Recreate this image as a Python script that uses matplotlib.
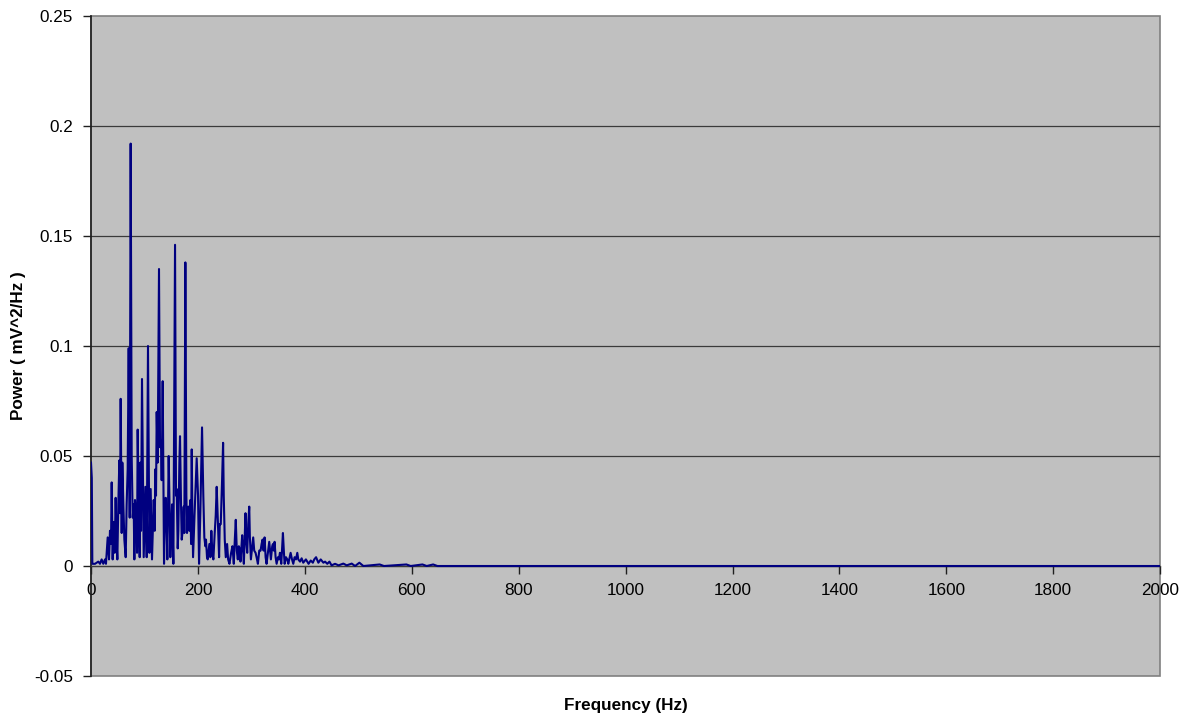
import matplotlib
matplotlib.use("Agg")
import matplotlib.pyplot as plt
from matplotlib.patches import Rectangle
from matplotlib.ticker import FuncFormatter

# power spectrum read point by point (Hz, mV^2/Hz)
freq_hz = [
    0, 1.5, 2.5, 7.5, 13.7, 16.8, 19.9, 23, 26.2, 28, 31.2, 33.7, 35.5, 37.4, 38.7,
    40.5, 42.4, 44.3, 46.1, 48, 49.3, 51.1, 53, 54.3, 55.5, 57.4, 58.6, 60.5,
    62.4, 64.9, 66.7, 68.6, 70.5, 72.4, 74.2, 76.1, 78, 79.8, 81.1, 82.3, 84.8,
    86.1, 87.3, 89.8, 91.1, 92.3, 93.6, 95.4, 97.3, 98.6, 101.7, 104.2, 106.6,
    109.2, 111.6, 114.1, 117.3, 119.1, 120.4, 121.6, 122.9, 124.7, 127.2, 129.1,
    131, 132.2, 134.1, 135.3, 136.6, 138.4, 139.7, 141.6, 142.8, 145.3, 147.2,
    148.4, 150.3, 151.6, 154.1, 157.2, 159, 160.3, 162.2, 163.4, 165.3, 166.5,
    168.4, 169.7, 171.5, 173.4, 174.6, 176.5, 178.4, 179.6, 180.9, 182.1, 184,
    185.9, 187.2, 188.4, 189.6, 190.9, 193.8, 197.7, 200.2, 202.1, 204.5,
    207.7, 210.1, 212, 213.9, 215.1, 217, 218.3, 221.4, 223.3, 225.1, 227,
    228.9, 231.4, 233.3, 235.1, 239.6, 240.8, 242.7, 245.2, 247.1, 248.3,
    250.2, 252.1, 254.6, 256.5, 259, 262.1, 264.6, 267.1, 269, 270.8, 272.7,
    274.6, 276.5, 277.7, 279.6, 282.8, 284.6, 285.9, 287.8, 289, 290.9, 292.2,
    294.1, 296, 297.2, 299.1, 301.6, 303.4, 305.3, 307.8, 309.7, 312.2, 314.7,
    317.2, 319.1, 320.9, 322.8, 324.7, 326.6, 328.4, 330.9, 333.4, 335.3,
    336.5, 339, 340.3, 342.1, 343.4, 345.3, 347.2, 349.7, 351.5, 353.4, 355.9,
    359, 360.9, 362.2, 364.7, 367.2, 369.1, 371.6, 373.4, 376, 378.4, 380.9,
    383.4, 385.9, 387.7, 391, 394, 397, 402, 407, 411, 415, 417.6, 421, 425.3,
    429.7, 434.7, 437.8, 442, 446, 450, 456.5, 463, 472, 478.3, 487.7, 494,
    502, 509.5, 540, 548, 590, 598, 620, 628, 640, 648, 2000,
]
power = [
    0.047, 0.040, 0.001, 0.001, 0.002, 0.001, 0.003, 0.001, 0.003, 0.001, 0.013,
    0.003, 0.016, 0.010, 0.038, 0.003, 0.020, 0.006, 0.031, 0.010, 0.003,
    0.028, 0.048, 0.024, 0.076, 0.015, 0.047, 0.028, 0.012, 0.004, 0.028,
    0.044, 0.099, 0.022, 0.192, 0.050, 0.022, 0.028, 0.003, 0.030, 0.021,
    0.006, 0.062, 0.016, 0.004, 0.047, 0.016, 0.085, 0.039, 0.004, 0.036,
    0.004, 0.100, 0.006, 0.035, 0.003, 0.030, 0.016, 0.044, 0.032, 0.070,
    0.047, 0.135, 0.054, 0.057, 0.039, 0.084, 0.047, 0.001, 0.024, 0.031,
    0.016, 0.003, 0.050, 0.024, 0.004, 0.016, 0.028, 0.001, 0.146, 0.032,
    0.035, 0.008, 0.016, 0.047, 0.059, 0.028, 0.012, 0.016, 0.027, 0.015,
    0.138, 0.032, 0.015, 0.021, 0.027, 0.016, 0.030, 0.010, 0.053, 0.024,
    0.004, 0.024, 0.049, 0.032, 0.001, 0.024, 0.063, 0.032, 0.013, 0.009,
    0.012, 0.004, 0.003, 0.010, 0.004, 0.016, 0.006, 0.003, 0.015, 0.023,
    0.036, 0.004, 0.019, 0.019, 0.039, 0.056, 0.032, 0.012, 0.004, 0.010,
    0.003, 0.001, 0.006, 0.009, 0.001, 0.012, 0.021, 0.007, 0.003, 0.009,
    0.008, 0.002, 0.014, 0.007, 0.001, 0.016, 0.024, 0.010, 0.006, 0.019,
    0.027, 0.013, 0.003, 0.009, 0.013, 0.007, 0.006, 0.004, 0.001, 0.007,
    0.007, 0.010, 0.012, 0.007, 0.013, 0.004, 0.001, 0.006, 0.011, 0.006,
    0.003, 0.009, 0.010, 0.007, 0.011, 0.004, 0.001, 0.004, 0.003, 0.006,
    0.001, 0.015, 0.006, 0.001, 0.004, 0.003, 0.001, 0.004, 0.006, 0.003,
    0.001, 0.004, 0.003, 0.006, 0.003, 0.002, 0.0035, 0.0015, 0.003, 0.001,
    0.0025, 0.0015, 0.003, 0.004, 0.0015, 0.003, 0.0015, 0.002, 0.001, 0.002,
    0.0003, 0.001, 0.0003, 0.0011, 0.0003, 0.0011, 0.0, 0.0015, 0.0, 0.0007,
    0.0, 0.0007, 0.0, 0.0007, 0.0, 0.0007, 0.0, 0.0,
]

x_ticks = list(range(0, 2001, 200))
y_ticks = [-0.05, 0, 0.05, 0.1, 0.15, 0.2, 0.25]

plt.rcParams['font.family'] = ['Liberation Sans', 'DejaVu Sans']

fig = plt.figure(figsize=(11.88, 7.21), dpi=100)
ax = fig.add_axes([0.0766, 0.0624, 0.9, 0.9154])
ax.set_facecolor('#c0c0c0')

ax.set_xlim(0, 2000)
ax.set_ylim(-0.05, 0.25)
ax.set_xticks(x_ticks)
ax.set_yticks(y_ticks)
ax.yaxis.set_major_formatter(FuncFormatter(lambda v, p: '%g' % round(v, 3)))

# horizontal gridlines only
for yv in y_ticks[1:-1]:
    ax.axhline(yv, color='#3a3a3a', lw=0.9, zorder=1)

ax.plot(freq_hz, power, color='#000080', lw=1.5, zorder=3)

# x axis crosses at zero, frame drawn separately
ax.spines['bottom'].set_position(('data', 0))
ax.spines['bottom'].set_color('#3a3a3a')
ax.spines['bottom'].set_linewidth(0.9)
ax.spines['top'].set_visible(False)
ax.spines['right'].set_visible(False)
ax.spines['left'].set_color('#202020')
ax.spines['left'].set_linewidth(1.2)
ax.add_patch(Rectangle((0, 0), 1, 1, transform=ax.transAxes, fill=False,
                       edgecolor='#808080', lw=1.2, clip_on=False, zorder=0.5))

ax.tick_params(axis='x', direction='out', length=6, width=1, color='#202020',
               labelsize=12.3, pad=6)
ax.tick_params(axis='y', direction='out', length=6, width=1, color='#202020',
               labelsize=12.3, pad=7)

ax.set_xlabel('Frequency (Hz)', fontsize=12.3, fontweight='bold')
ax.set_ylabel('Power ( mV^2/Hz )', fontsize=12.3, fontweight='bold')
ax.xaxis.set_label_coords(0.5, -0.034)
ax.yaxis.set_label_coords(-0.061, 0.5)

fig.savefig('out.png', dpi=100)
